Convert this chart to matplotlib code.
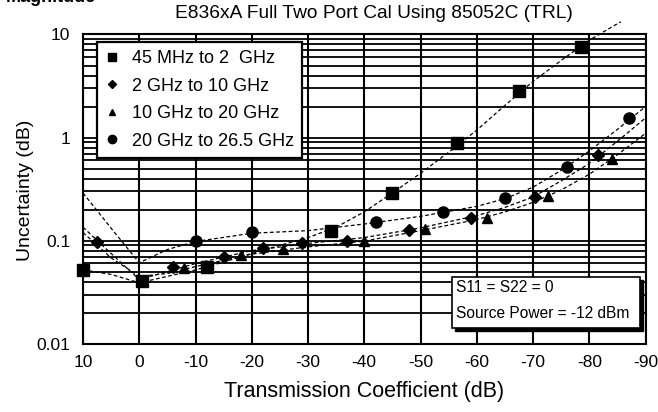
import matplotlib
matplotlib.use("Agg")
import matplotlib.pyplot as plt
from matplotlib.lines import Line2D
from matplotlib.patches import Rectangle
from matplotlib.ticker import NullFormatter, LogLocator

plt.rcParams['font.family'] = ['Liberation Sans Narrow', 'Liberation Sans', 'DejaVu Sans']

title = 'E836xA Full Two Port Cal Using 85052C (TRL)'
x_label = 'Transmission Coefficient (dB)'
y_label = 'Uncertainty (dB)'
x_ticks = [10, 0, -10, -20, -30, -40, -50, -60, -70, -80, -90]
x_tick_labels = ['10', '0', '-10', '-20', '-30', '-40', '-50', '-60', '-70', '-80', '-90']
y_ticks = [0.01, 0.1, 1, 10]
y_tick_labels = ['0.01', '0.1', '1', '10']

series_labels = ['45 MHz to 2  GHz', '2 GHz to 10 GHz', '10 GHz to 20 GHz', '20 GHz to 26.5 GHz']

# measured points per band
band1_x = [10, -0.5, -12, -34, -45, -56.5, -67.5, -78.5]
band1_y = [0.052, 0.041, 0.055, 0.125, 0.29, 0.88, 2.85, 7.5]
band2_x = [7.5, -6, -15, -22, -29, -37, -48, -59, -70.4, -81.5]
band2_y = [0.097, 0.055, 0.069, 0.084, 0.095, 0.1, 0.127, 0.165, 0.265, 0.675]
band3_x = [-8, -18, -25.6, -40, -50.8, -61.8, -72.7, -84]
band3_y = [0.054, 0.072, 0.083, 0.099, 0.13, 0.167, 0.27, 0.62]
band4_x = [-10, -20, -42, -54, -65, -76, -87]
band4_y = [0.1, 0.12, 0.151, 0.19, 0.26, 0.52, 1.55]

# fitted trend curves per band
trend1_x = [10, 5, 0, -5, -10, -15, -20, -25, -30, -35, -40, -45, -50, -55, -60, -65, -70, -75, -80, -85.6]
trend1_y = [0.052, 0.047, 0.039, 0.045, 0.052, 0.062, 0.075, 0.09, 0.107, 0.135, 0.19, 0.29,
            0.45, 0.72, 1.18, 2.05, 3.5, 5.6, 8.8, 13.3]
trend_x = [10, 5, 0, -5, -10, -20, -30, -40, -50, -60, -65, -70, -75, -80, -85, -90]
trend2_y = [0.135, 0.075, 0.042, 0.05, 0.06, 0.08, 0.094, 0.107, 0.133, 0.175, 0.21, 0.265,
            0.38, 0.56, 0.92, 1.55]
trend3_y = [0.12, 0.068, 0.045, 0.048, 0.056, 0.074, 0.087, 0.099, 0.125, 0.16, 0.19, 0.235,
            0.31, 0.44, 0.68, 1.1]
trend4_y = [0.29, 0.132, 0.061, 0.082, 0.098, 0.118, 0.125, 0.145, 0.172, 0.215, 0.255, 0.33,
            0.48, 0.74, 1.2, 2.0]

note_lines = ['S11 = S22 = 0', 'Source Power = -12 dBm']

W, H = 658, 412
fig = plt.figure(figsize=(W / 100, H / 100), dpi=100)
ax = fig.add_axes([83 / W, 1 - 343.7 / H, 562.5 / W, 309.2 / H])

ax.set_yscale('log')
ax.set_xlim(10, -90)
ax.set_ylim(0.01, 10)

ax.set_xticks(x_ticks)
ax.set_xticklabels(x_tick_labels)
ax.set_yticks(y_ticks)
ax.set_yticklabels(y_tick_labels)
ax.yaxis.set_minor_locator(LogLocator(base=10, subs=range(2, 10)))
ax.yaxis.set_minor_formatter(NullFormatter())
ax.tick_params(which='both', length=0)
ax.tick_params(axis='x', labelsize=12.5, pad=8)
ax.tick_params(axis='y', labelsize=12.5, pad=9)

ax.grid(True, axis='x', which='major', color='black', lw=1.5)
ax.grid(True, axis='y', which='both', color='black', lw=1.3)
ax.set_axisbelow(True)
for sp in ax.spines.values():
    sp.set_linewidth(1.5)

dash = (0, (3, 2))
trend_kw = dict(color='black', lw=0.9, linestyle=dash, zorder=3)
ax.plot(trend1_x, trend1_y, clip_on=False, **trend_kw)
ax.plot(trend_x, trend2_y, **trend_kw)
ax.plot(trend_x, trend3_y, **trend_kw)
ax.plot(trend_x, trend4_y, **trend_kw)

mk_kw = dict(color='black', linestyle='none', zorder=4, clip_on=False)
ax.plot(band1_x, band1_y, marker='s', markersize=8.5, **mk_kw)
ax.plot(band2_x, band2_y, marker='D', markersize=6.5, **mk_kw)
ax.plot(band3_x, band3_y, marker='^', markersize=7, **mk_kw)
ax.plot(band4_x, band4_y, marker='o', markersize=8, **mk_kw)

handles = [
    Line2D([], [], color='black', marker='s', linestyle='none', markersize=6),
    Line2D([], [], color='black', marker='D', linestyle='none', markersize=4.5),
    Line2D([], [], color='black', marker='^', linestyle='none', markersize=5),
    Line2D([], [], color='black', marker='o', linestyle='none', markersize=6),
]
leg = ax.legend(handles, series_labels, loc='upper left', bbox_to_anchor=(0.0249, 0.9757),
                borderaxespad=0, frameon=True, fancybox=False, edgecolor='black',
                framealpha=1, fontsize=13, handlelength=0.8, handletextpad=0.7,
                labelspacing=0.58, borderpad=0.45)
leg.get_frame().set_linewidth(1.6)
leg.set_zorder(6)

# note box with drop shadow
bx0, by0, bx1, by1 = 452, 277, 640, 328
shadow = Rectangle(((bx0 + 3) / W, 1 - (by1 + 3) / H), (bx1 - bx0) / W, (by1 - by0) / H,
                   transform=fig.transFigure, facecolor='black', edgecolor='black', zorder=7)
box = Rectangle((bx0 / W, 1 - by1 / H), (bx1 - bx0) / W, (by1 - by0) / H,
                transform=fig.transFigure, facecolor='white', edgecolor='black', lw=1.2, zorder=8)
fig.add_artist(shadow)
fig.add_artist(box)
fig.text(456 / W, 1 - 288 / H, note_lines[0], fontsize=11.2, va='center', ha='left', zorder=9)
fig.text(456 / W, 1 - 314 / H, note_lines[1], fontsize=11.2, va='center', ha='left', zorder=9)

fig.text(374 / W, 1 - 14 / H, title, fontsize=13.8, ha='center', va='center')
fig.text(364 / W, 1 - 392 / H, x_label, fontsize=15.5, ha='center', va='center')
fig.text(25 / W, 1 - 190 / H, y_label, fontsize=14, ha='center', va='center', rotation=90)
fig.text(6 / W, 1 - 1.5 / H, 'Magnitude', fontsize=13, fontweight='bold', ha='left', va='baseline')

fig.savefig('out.png', dpi=100)
